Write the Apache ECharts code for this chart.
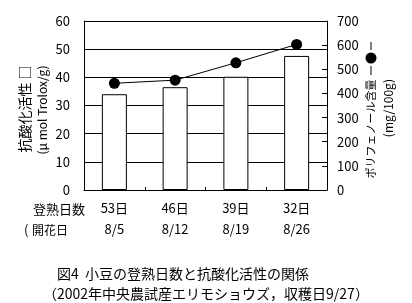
<!DOCTYPE html>
<html><head><meta charset="utf-8">
<script src="https://cdn.jsdelivr.net/npm/echarts@6/dist/echarts.min.js"></script>
<style>html,body{margin:0;padding:0;background:#fff}#c{width:412px;height:303px}</style>
</head><body><div id="c"></div>
<script>
var days = ['53日','46日','39日','32日'];
var dates = ['8/5','8/12','8/19','8/26'];
var antioxidant = [34.0, 36.5, 40.2, 47.6];
var polyphenol = [442, 455, 527, 603];
var leftTicks = [0, 60, 10];
var rightTicks = [0, 700, 100];

var F = '"Noto Sans CJK JP", sans-serif';
var chart = echarts.init(document.getElementById('c'), null, {renderer:'canvas'});
chart.setOption({
  animation:false,
  backgroundColor:'#fff',
  title:[
    {text:'図4  小豆の登熟日数と抗酸化活性の関係', left:52, top:262,
     textStyle:{fontFamily:F, fontSize:14, fontWeight:'normal', color:'#000'}},
    {text:'（2002年中央農試産エリモショウズ，収穫日9/27）', left:38, top:282,
     textStyle:{fontFamily:F, fontSize:14, fontWeight:'normal', color:'#000'}}
  ],
  grid:{left:84, right:85, top:21, bottom:113},
  xAxis:{
    type:'category', data:days,
    axisLine:{lineStyle:{color:'#000', width:1}},
    axisTick:{show:true, inside:true, length:3, lineStyle:{color:'#000'}},
    axisLabel:{color:'#000', fontFamily:F, fontSize:13, margin:8, lineHeight:21,
      formatter:function(v, i){ return v + '\n' + dates[i]; }}
  },
  yAxis:[
    {type:'value', min:leftTicks[0], max:leftTicks[1], interval:leftTicks[2],
     axisLine:{show:true, lineStyle:{color:'#000'}},
     axisTick:{show:false},
     splitLine:{show:true, lineStyle:{color:'#000', width:1}},
     axisLabel:{color:'#000', fontFamily:F, fontSize:13, margin:14}},
    {type:'value', min:rightTicks[0], max:rightTicks[1], interval:rightTicks[2],
     position:'right',
     axisLine:{show:true, lineStyle:{color:'#000'}},
     axisTick:{show:true, inside:true, length:5, lineStyle:{color:'#000'}},
     splitLine:{show:false},
     axisLabel:{color:'#000', fontFamily:F, fontSize:13, margin:10}}
  ],
  series:[
    {type:'bar', data:antioxidant, yAxisIndex:0, barWidth:25,
     itemStyle:{color:'#fff', borderColor:'#000', borderWidth:1}},
    {type:'line', data:polyphenol, yAxisIndex:1, symbol:'circle', symbolSize:11,
     lineStyle:{color:'#000', width:1}, itemStyle:{color:'#000'}}
  ],
  graphic:[
    {type:'text', x:25, y:109, rotation:Math.PI/2,
     style:{text:'抗酸化活性 □', fontFamily:F, fontSize:14, fill:'#000', align:'center', verticalAlign:'middle'}},
    {type:'text', x:42, y:110, rotation:Math.PI/2,
     style:{text:'(μ mol Trolox/g)', fontFamily:F, fontSize:12, fill:'#000', align:'center', verticalAlign:'middle'}},
    {type:'text', x:371, y:129, rotation:Math.PI/2,
     style:{text:'ポリフェノール含量', fontFamily:F, fontSize:11, fill:'#000', align:'center', verticalAlign:'middle'}},
    {type:'text', x:388, y:108, rotation:Math.PI/2,
     style:{text:'(mg/100g)', fontFamily:F, fontSize:12, fill:'#000', align:'center', verticalAlign:'middle'}},
    {type:'line', shape:{x1:371, y1:42, x2:371, y2:50}, style:{stroke:'#000', lineWidth:1}},
    {type:'circle', shape:{cx:371, cy:58, r:5.5}, style:{fill:'#000'}},
    {type:'line', shape:{x1:371, y1:66, x2:371, y2:75}, style:{stroke:'#000', lineWidth:1}},
    {type:'text', x:33, y:209,
     style:{text:'登熟日数', fontFamily:F, fontSize:13, fill:'#000', align:'left', verticalAlign:'middle'}},
    {type:'text', x:24, y:230,
     style:{text:'(', fontFamily:F, fontSize:13, fill:'#000', align:'left', verticalAlign:'middle'}},
    {type:'text', x:32, y:230,
     style:{text:'開花日', fontFamily:F, fontSize:12, fill:'#000', align:'left', verticalAlign:'middle'}}
  ]
});
</script></body></html>
